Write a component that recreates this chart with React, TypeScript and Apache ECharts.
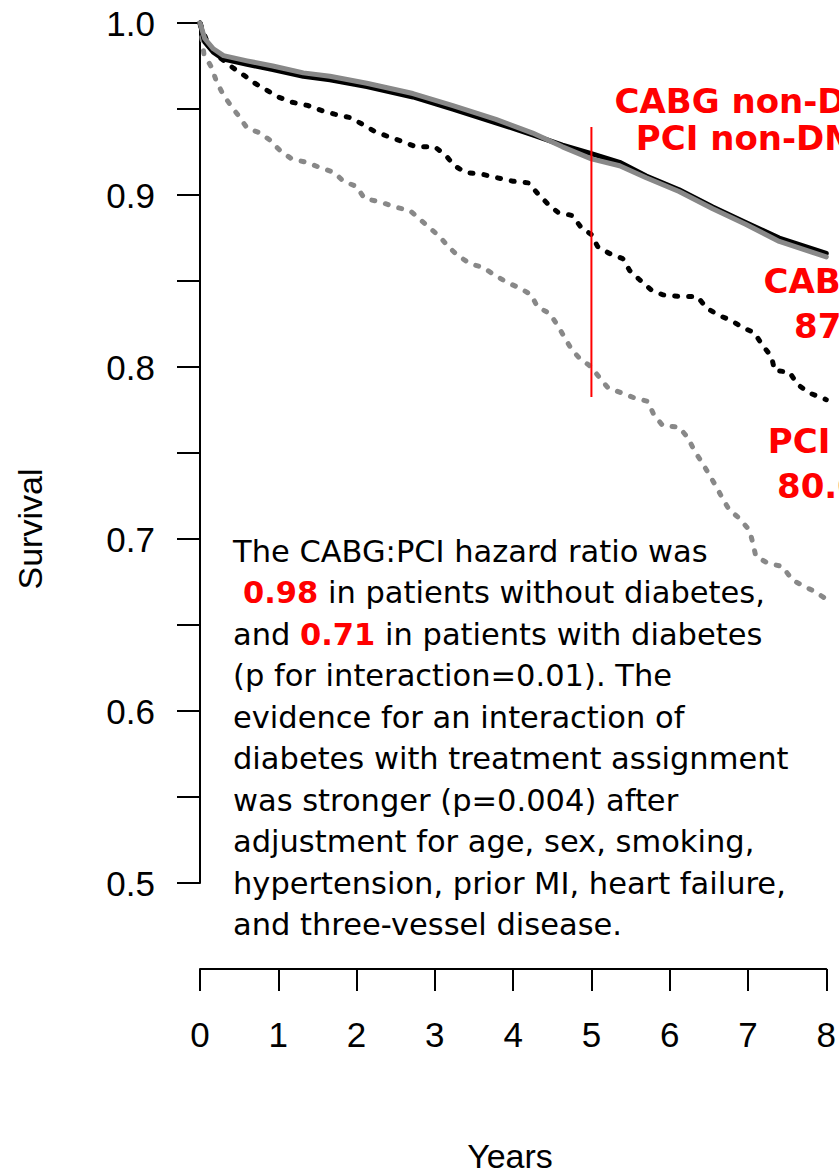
import React, { useEffect, useRef } from "react";
import * as echarts from "echarts";

// ---- Data ----
const xTicks = [0, 1, 2, 3, 4, 5, 6, 7, 8];

const solidTimes = [0, 0.06, 0.17, 0.3, 0.6, 0.93, 1.32, 1.66, 2.13, 2.72, 3.23, 3.78, 4.25, 4.63, 5.0, 5.36, 5.7, 6.12, 6.55, 6.97, 7.4, 8.0];
const cabgNonDM = [1.0, 0.989, 0.983, 0.979, 0.976, 0.973, 0.969, 0.967, 0.963, 0.957, 0.95, 0.942, 0.935, 0.929, 0.924, 0.919, 0.911, 0.903, 0.893, 0.884, 0.875, 0.866];
const pciNonDM = [1.0, 0.991, 0.985, 0.981, 0.978, 0.975, 0.971, 0.969, 0.965, 0.959, 0.952, 0.944, 0.936, 0.928, 0.921, 0.917, 0.91, 0.902, 0.892, 0.883, 0.873, 0.864];

const cabgDMTimes = [0, 0.1, 0.25, 0.42, 0.55, 0.7, 0.85, 1.0, 1.17, 1.38, 1.56, 1.72, 1.92, 2.08, 2.23, 2.4, 2.59, 2.76, 3.0, 3.14, 3.25, 3.4, 3.61, 3.8, 4.0, 4.2, 4.31, 4.44, 4.57, 4.76, 4.87, 5.0, 5.08, 5.23, 5.4, 5.49, 5.61, 5.76, 5.91, 6.12, 6.35, 6.48, 6.63, 6.79, 6.93, 7.08, 7.18, 7.3, 7.34, 7.53, 7.63, 7.78, 7.95, 8.0];
const cabgDM = [1.0, 0.988, 0.98, 0.974, 0.97, 0.965, 0.961, 0.957, 0.954, 0.952, 0.949, 0.947, 0.945, 0.941, 0.937, 0.934, 0.931, 0.928, 0.928, 0.923, 0.917, 0.913, 0.912, 0.91, 0.908, 0.907, 0.901, 0.895, 0.89, 0.888, 0.881, 0.877, 0.87, 0.866, 0.863, 0.856, 0.851, 0.845, 0.842, 0.841, 0.841, 0.834, 0.83, 0.827, 0.823, 0.82, 0.813, 0.806, 0.798, 0.797, 0.79, 0.785, 0.782, 0.781];

const pciDMTimes = [0, 0.05, 0.15, 0.21, 0.3, 0.41, 0.51, 0.6, 0.77, 0.89, 1.02, 1.17, 1.36, 1.53, 1.72, 1.83, 2.0, 2.1, 2.3, 2.49, 2.68, 2.78, 2.93, 3.06, 3.17, 3.29, 3.45, 3.61, 3.78, 3.93, 4.08, 4.23, 4.31, 4.47, 4.57, 4.66, 4.75, 4.85, 5.0, 5.1, 5.21, 5.38, 5.55, 5.72, 5.8, 5.91, 6.12, 6.23, 6.32, 6.42, 6.51, 6.6, 6.67, 6.76, 6.89, 7.02, 7.06, 7.1, 7.25, 7.44, 7.57, 7.74, 7.87, 8.0];
const pciDM = [1.0, 0.982, 0.974, 0.966, 0.958, 0.951, 0.945, 0.939, 0.936, 0.932, 0.926, 0.921, 0.919, 0.916, 0.913, 0.908, 0.905, 0.898, 0.896, 0.893, 0.891, 0.887, 0.881, 0.876, 0.87, 0.865, 0.86, 0.858, 0.853, 0.849, 0.846, 0.842, 0.835, 0.831, 0.824, 0.817, 0.81, 0.805, 0.8, 0.794, 0.788, 0.785, 0.782, 0.78, 0.772, 0.766, 0.765, 0.759, 0.751, 0.744, 0.737, 0.73, 0.724, 0.717, 0.712, 0.705, 0.698, 0.69, 0.686, 0.684, 0.676, 0.672, 0.669, 0.665];

const markerYear = 5;
const markerRange = [0.9395, 0.7826];

const noteLines = [
  "The CABG:PCI hazard ratio was",
  "{r|0.98} in patients without diabetes,",
  "and {r|0.71} in patients with diabetes",
  "(p for interaction=0.01). The",
  "evidence for an interaction of",
  "diabetes with treatment assignment",
  "was stronger (p=0.004) after",
  "adjustment for age, sex, smoking,",
  "hypertension, prior MI, heart failure,",
  "and three-vessel disease.",
];

const groupLabels = [
  { lines: ["CABG non-DM", "PCI non-DM"], cx: 747, ys: [101, 138] },
  { lines: ["CABG DM", "87.4%"], cx: 853, ys: [281, 326] },
  { lines: ["PCI DM", "80.0%"], cx: 836, ys: [441, 486] },
];

const pairs = (t: number[], s: number[]) => t.map((v, i) => [v, s[i]]);

export default function App() {
  const ref = useRef<HTMLDivElement>(null);
  useEffect(() => {
    if (!ref.current) return;
    const chart = echarts.init(ref.current, undefined, { renderer: "svg" });
    const axisFont = "Liberation Sans";
    const noteFont = "DejaVu Sans";
    const graphics: any[] = [];
    noteLines.forEach((line, i) => {
      graphics.push({
        type: "text",
        x: i === 1 ? 243 : 233,
        y: 551 + 41.5 * i,
        style: {
          text: line,
          fill: "#000",
          fontSize: 30.5,
          fontFamily: noteFont,
          align: "left",
          verticalAlign: "middle",
          rich: {
            r: { fill: "#ff0000", fontWeight: "bold", fontSize: 30.5, fontFamily: noteFont },
          },
        },
      });
    });
    groupLabels.forEach((g) => {
      g.lines.forEach((l, i) => {
        graphics.push({
          type: "text",
          x: g.cx,
          y: g.ys[i],
          style: {
            text: l,
            fill: "#ff0000",
            fontSize: 34,
            fontWeight: "bold",
            fontFamily: noteFont,
            align: "center",
            verticalAlign: "middle",
          },
        });
      });
    });
    graphics.push({
      type: "text",
      x: 30,
      y: 529,
      rotation: Math.PI / 2,
      style: { text: "Survival", fill: "#000", fontSize: 34, fontFamily: axisFont, align: "center", verticalAlign: "middle" },
    });
    graphics.push({
      type: "text",
      x: 510,
      y: 1156,
      style: { text: "Years", fill: "#000", fontSize: 34, fontFamily: axisFont, align: "center", verticalAlign: "middle" },
    });

    const line = (name: string, data: number[][], color: string, dotted: boolean, z: number) => ({
      name,
      type: "line",
      data,
      symbol: "none",
      showSymbol: false,
      smooth: false,
      clip: false,
      z,
      lineStyle: dotted
        ? { color, width: 5, type: [3, 11], cap: "round" }
        : { color, width: 5, type: "solid", cap: "round", join: "round" },
    });

    chart.setOption({
      animation: false,
      grid: { left: 200, right: 12, top: 23, bottom: 293, containLabel: false },
      xAxis: {
        type: "value",
        min: 0,
        max: 8,
        interval: 1,
        offset: 86,
        axisLine: { show: true, lineStyle: { color: "#000", width: 2 } },
        axisTick: { show: true, length: 22, lineStyle: { color: "#000", width: 2 } },
        axisLabel: {
          margin: 48,
          color: "#000",
          fontSize: 35,
          fontFamily: axisFont,
          formatter: (v: number) => (xTicks.includes(v) ? String(v) : ""),
        },
        splitLine: { show: false },
      },
      yAxis: {
        type: "value",
        min: 0.5,
        max: 1.0,
        interval: 0.05,
        axisLine: { show: true, lineStyle: { color: "#000", width: 2 } },
        axisTick: { show: true, length: 23, lineStyle: { color: "#000", width: 2 } },
        axisLabel: {
          margin: 45,
          color: "#000",
          fontSize: 35,
          fontFamily: axisFont,
          formatter: (v: number) => (Math.round(v * 100) % 10 === 0 ? v.toFixed(1) : ""),
        },
        splitLine: { show: false },
      },
      series: [
        line("PCI DM", pairs(pciDMTimes, pciDM), "#888888", true, 2),
        line("CABG DM", pairs(cabgDMTimes, cabgDM), "#000000", true, 3),
        line("CABG non-DM", pairs(solidTimes, cabgNonDM), "#000000", false, 4),
        line("PCI non-DM", pairs(solidTimes, pciNonDM), "#888888", false, 5),
        {
          name: "5-year",
          type: "line",
          data: [[markerYear, markerRange[0]], [markerYear, markerRange[1]]],
          symbol: "none",
          z: 6,
          lineStyle: { color: "#ff0000", width: 2 },
        },
      ],
      graphic: graphics,
    });
    return () => chart.dispose();
  }, []);
  return (
    <div
      ref={ref}
      style={{ position: "fixed", left: 0, top: 0, width: 839, height: 1176, overflow: "hidden", background: "#fff" }}
    />
  );
}
